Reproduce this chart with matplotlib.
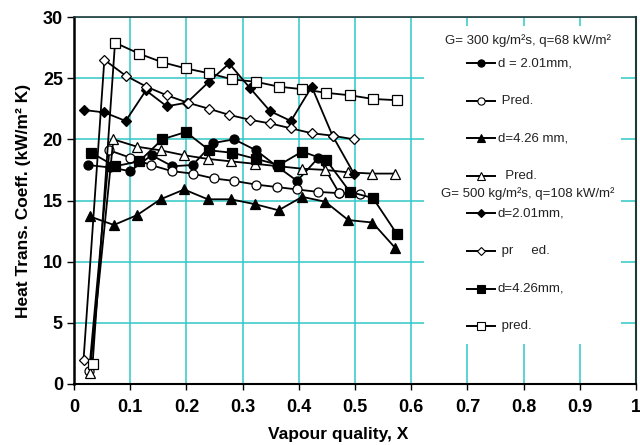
import matplotlib
matplotlib.use('Agg')
from matplotlib import pyplot as plt
from matplotlib.lines import Line2D
from matplotlib.patches import Rectangle

plt.rcParams['font.family'] = ['Liberation Sans', 'DejaVu Sans']

# G = 300 kg/m2s, q = 68 kW/m2
x_c_exp = [0.025, 0.064, 0.100, 0.138, 0.175, 0.211, 0.248, 0.285, 0.324, 0.361, 0.397, 0.435, 0.472]
y_c_exp = [17.9, 17.7, 17.4, 18.7, 17.8, 17.9, 19.7, 20.0, 19.1, 17.8, 16.6, 18.5, 15.6]
x_c_pred = [0.027, 0.063, 0.100, 0.137, 0.174, 0.211, 0.249, 0.285, 0.324, 0.361, 0.397, 0.435, 0.472, 0.509]
y_c_pred = [1.1, 19.1, 18.5, 17.9, 17.4, 17.2, 16.8, 16.6, 16.3, 16.1, 15.9, 15.7, 15.6, 15.5]
x_t_exp = [0.028, 0.071, 0.112, 0.154, 0.196, 0.238, 0.279, 0.322, 0.364, 0.406, 0.447, 0.488, 0.531, 0.572]
y_t_exp = [13.7, 13.0, 13.8, 15.1, 15.9, 15.1, 15.1, 14.7, 14.2, 15.3, 14.9, 13.4, 13.2, 11.1]
x_t_pred = [0.028, 0.070, 0.112, 0.154, 0.196, 0.238, 0.279, 0.322, 0.364, 0.406, 0.447, 0.488, 0.531, 0.572]
y_t_pred = [0.9, 20.0, 19.4, 19.1, 18.7, 18.4, 18.2, 18.0, 17.8, 17.6, 17.5, 17.3, 17.2, 17.2]

# G = 500 kg/m2s, q = 108 kW/m2
x_d_exp = [0.017, 0.054, 0.092, 0.128, 0.165, 0.201, 0.240, 0.276, 0.313, 0.349, 0.386, 0.423, 0.460, 0.498]
y_d_exp = [22.4, 22.2, 21.5, 24.0, 22.7, 23.0, 24.7, 26.2, 24.2, 22.3, 21.5, 24.3, 20.3, 17.2]
x_d_pred = [0.017, 0.054, 0.092, 0.129, 0.165, 0.202, 0.240, 0.276, 0.313, 0.349, 0.386, 0.423, 0.460, 0.498]
y_d_pred = [2.0, 26.5, 25.2, 24.3, 23.6, 23.0, 22.5, 22.0, 21.6, 21.3, 20.9, 20.5, 20.3, 20.0]
x_s_exp = [0.031, 0.073, 0.116, 0.157, 0.199, 0.241, 0.282, 0.324, 0.365, 0.406, 0.449, 0.491, 0.532, 0.574]
y_s_exp = [18.9, 17.8, 18.2, 20.0, 20.6, 19.1, 18.9, 18.4, 17.9, 19.0, 18.3, 15.7, 15.2, 12.3]
x_s_pred = [0.033, 0.073, 0.116, 0.157, 0.199, 0.240, 0.282, 0.324, 0.365, 0.406, 0.449, 0.491, 0.532, 0.574]
y_s_pred = [1.6, 27.9, 27.0, 26.3, 25.8, 25.4, 24.9, 24.7, 24.3, 24.1, 23.8, 23.6, 23.3, 23.2]

xticks = [0, 0.1, 0.2, 0.3, 0.4, 0.5, 0.6, 0.7, 0.8, 0.9, 1.0]
xticklabels = ['0', '0.1', '0.2', '0.3', '0.4', '0.5', '0.6', '0.7', '0.8', '0.9', '1']
yticks = [0, 5, 10, 15, 20, 25, 30]

title1 = 'G= 300 kg/m\u00b2s, q=68 kW/m\u00b2'
title2 = 'G= 500 kg/m\u00b2s, q=108 kW/m\u00b2'
labels = ['d = 2.01mm,', ' Pred.', 'd=4.26 mm,', '  Pred.',
          'd=2.01mm,', ' pr     ed.', 'd=4.26mm,', ' pred.']

W, H = 640, 445
L, R, T, B = 74, 636, 17, 384
fig = plt.figure(figsize=(W / 100, H / 100), dpi=100)
ax = fig.add_axes([L / W, 1 - B / H, (R - L) / W, (B - T) / H])

grid_col = '#30c6c6'
ax.set_axisbelow(True)
ax.grid(True, color=grid_col, lw=1.1)

styles = [
    (x_c_exp, y_c_exp, 'o', 'black', 6.5),
    (x_c_pred, y_c_pred, 'o', 'white', 6.5),
    (x_t_exp, y_t_exp, '^', 'black', 7.5),
    (x_t_pred, y_t_pred, '^', 'white', 7.5),
    (x_d_exp, y_d_exp, 'D', 'black', 5.5),
    (x_d_pred, y_d_pred, 'D', 'white', 5.5),
    (x_s_exp, y_s_exp, 's', 'black', 6.5),
    (x_s_pred, y_s_pred, 's', 'white', 6.5),
]
for xs, ys, m, fc, ms in styles:
    ax.plot(xs, ys, color='black', lw=1.3, marker=m, ms=ms,
            mfc=fc, mec='black', mew=0.9, zorder=3)

ax.set_xlim(0, 1)
ax.set_ylim(0, 30)
ax.set_xticks(xticks)
ax.set_xticklabels(xticklabels)
ax.set_yticks(yticks)
for lab in ax.get_xticklabels() + ax.get_yticklabels():
    lab.set_fontweight('bold')
    lab.set_fontsize(13)
ax.tick_params(axis='x', direction='out', length=4, width=1, pad=7)
ax.tick_params(axis='y', direction='out', length=5, width=1, pad=3)

ax.spines['left'].set_linewidth(1.8)
ax.spines['bottom'].set_linewidth(1.5)
ax.spines['top'].set_linewidth(1.2)
ax.spines['right'].set_linewidth(1.5)
ax.spines['top'].set_color('#1f3a3a')
ax.spines['right'].set_color('#1f3a3a')

ax.set_xlabel('Vapour quality, X', fontsize=12.5, fontweight='bold', va='center')
ax.xaxis.set_label_coords(0.47, -0.138)
ax.set_ylabel('Heat Trans. Coeff. (kW/m\u00b2 K)', fontsize=12.5, fontweight='bold')
ax.yaxis.set_label_coords(-0.076, 0.5)


# legend block, laid out in pixel positions
def fx(px):
    return (px - L) / (R - L)


def fy(py):
    return (B - py) / (B - T)


ax.add_patch(Rectangle((fx(424), fy(344)), fx(621) - fx(424), fy(26) - fy(344),
                       transform=ax.transAxes, facecolor='white', edgecolor='none',
                       zorder=4))
ax.text(fx(528), fy(41), title1, transform=ax.transAxes, ha='center', va='center',
        fontsize=9.5, color='#222222', zorder=5)
ax.text(fx(528), fy(194), title2, transform=ax.transAxes, ha='center', va='center',
        fontsize=9.5, color='#222222', zorder=5)
rows = [63, 101, 138.5, 176, 213, 251, 288.5, 326]
for (xs, ys, m, fc, ms), lab, py in zip(styles, labels, rows):
    ax.add_line(Line2D([fx(467), fx(495)], [fy(py), fy(py)], transform=ax.transAxes,
                       color='black', lw=1.4, zorder=5))
    ax.add_line(Line2D([fx(481)], [fy(py)], transform=ax.transAxes, marker=m,
                       ms=ms * 0.8, mfc=fc, mec='black', mew=0.8, zorder=6))
    ax.text(fx(498), fy(py), lab, transform=ax.transAxes, ha='left', va='center',
            fontsize=9.5, color='#222222', zorder=5)

plt.savefig('out.png', dpi=100)
